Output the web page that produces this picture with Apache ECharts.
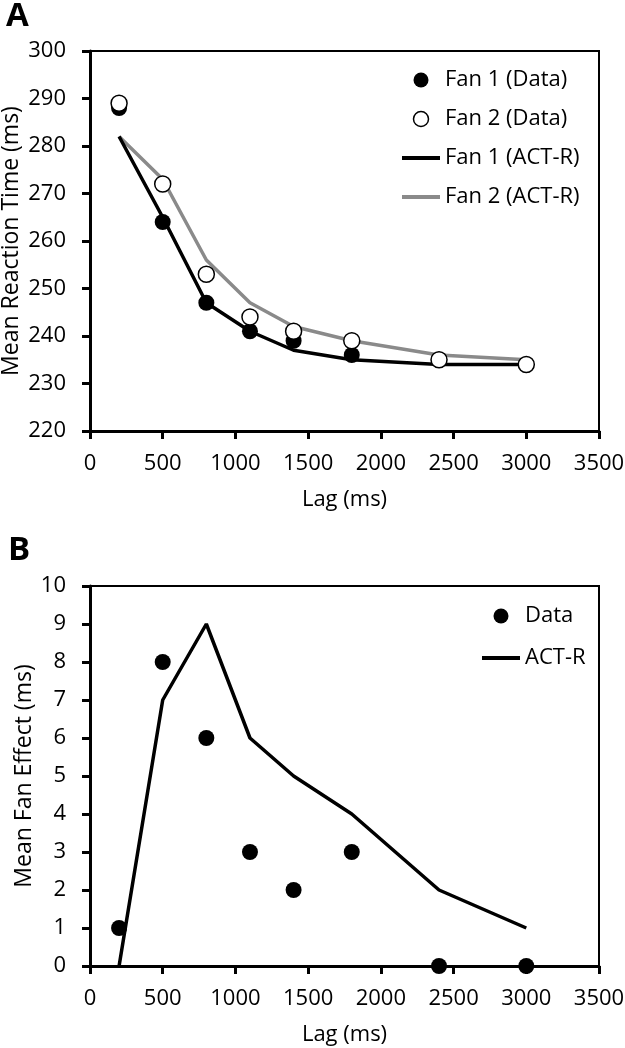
<!DOCTYPE html>
<html>
<head>
<meta charset="utf-8">
<script src="https://cdn.jsdelivr.net/npm/echarts@6/dist/echarts.min.js"></script>
<style>
html,body{margin:0;padding:0;background:#fff;}
#chart{width:625px;height:1048px;}
</style>
</head>
<body>
<div id="chart"></div>
<script>
// ---- data ----
var lags = [200, 500, 800, 1100, 1400, 1800, 2400, 3000];
var fan1Data = [288, 264, 247, 241, 239, 236, 235, 234];
var fan2Data = [289, 272, 253, 244, 241, 239, 235, 234];
var fan1Model = [282, 265, 247, 241, 237, 235, 234, 234];
var fan2Model = [282, 273, 256, 247, 242, 239, 236, 235];
var fanEffectData = [1, 8, 6, 3, 2, 3, 0, 0];
var fanEffectModel = [0, 7, 9, 6, 5, 4, 2, 1];
var panelLabels = ['A', 'B'];
var xTitle = 'Lag (ms)';
var yTitles = ['Mean Reaction Time (ms)', 'Mean Fan Effect (ms)'];

function pairs(xs, ys) { return xs.map(function (x, i) { return [x, ys[i]]; }); }

var FONT = '"Open Sans", "Noto Sans", sans-serif';
var GRAY = '#8a8a8a';
var plain = function (v) { return String(v); };

function xAxis(gi) {
  return {
    type: 'value', gridIndex: gi, min: 0, max: 3500, interval: 500,
    name: xTitle, nameLocation: 'middle', nameGap: 58, nameMoveOverlap: false,
    nameTextStyle: { fontFamily: FONT, fontSize: 22, color: '#000' },
    axisLine: { show: true, onZero: false, lineStyle: { color: '#000', width: 3 } },
    axisTick: { show: true, length: 8, lineStyle: { color: '#000', width: 3 } },
    axisLabel: { margin: 22, fontFamily: FONT, fontSize: 22, color: '#000', formatter: plain },
    splitLine: { show: false }
  };
}
function yAxis(gi, min, max, interval, name, gap) {
  return {
    type: 'value', gridIndex: gi, min: min, max: max, interval: interval,
    name: name, nameLocation: 'middle', nameGap: gap, nameMoveOverlap: false,
    nameTextStyle: { fontFamily: FONT, fontSize: 23, color: '#000' },
    axisLine: { show: true, onZero: false, lineStyle: { color: '#000', width: 3 } },
    axisTick: { show: true, length: 8, lineStyle: { color: '#000', width: 3 } },
    axisLabel: { margin: 24, fontFamily: FONT, fontSize: 22, color: '#000', formatter: plain },
    splitLine: { show: false }
  };
}
var hiddenSym = { color: 'rgba(0,0,0,0)', borderWidth: 0 };

var option = {
  animation: false,
  backgroundColor: '#fff',
  textStyle: { fontFamily: FONT },
  title: [
    { text: panelLabels[0], left: 1, top: -5, textStyle: { fontFamily: FONT, fontSize: 33, fontWeight: 'bold', color: '#000' } },
    { text: panelLabels[1], left: 3, top: 529, textStyle: { fontFamily: FONT, fontSize: 33, fontWeight: 'bold', color: '#000' } }
  ],
  grid: [
    { left: 90, right: 26, top: 51, height: 380, show: true, borderColor: '#000', borderWidth: 2, containLabel: false, outerBoundsMode: 'none' },
    { left: 90, right: 26, top: 586, height: 380, show: true, borderColor: '#000', borderWidth: 2, containLabel: false, outerBoundsMode: 'none' }
  ],
  xAxis: [xAxis(0), xAxis(1)],
  yAxis: [
    yAxis(0, 220, 300, 10, yTitles[0], 67),
    yAxis(1, 0, 10, 1, yTitles[1], 54)
  ],
  legend: [
    {
      orient: 'vertical', left: 400, top: 69, padding: 0, itemGap: 17,
      itemWidth: 38, itemHeight: 15,
      lineStyle: { width: 4 },
      textStyle: { fontFamily: FONT, fontSize: 22, color: '#000', lineHeight: 15 },
      data: [
        { name: 'Fan 1 (Data)', icon: 'circle', itemStyle: { color: '#000', borderWidth: 0 } },
        { name: 'Fan 2 (Data)', icon: 'circle', itemStyle: { color: '#fff', borderColor: '#000', borderWidth: 1.5 } },
        { name: 'Fan 1 (ACT-R)', itemStyle: hiddenSym, lineStyle: { width: 4, color: '#000' } },
        { name: 'Fan 2 (ACT-R)', itemStyle: hiddenSym, lineStyle: { width: 4, color: GRAY } }
      ]
    },
    {
      orient: 'vertical', left: 480, top: 605, padding: 0, itemGap: 20,
      itemWidth: 38, itemHeight: 15,
      lineStyle: { width: 4 },
      textStyle: { fontFamily: FONT, fontSize: 22, color: '#000', lineHeight: 15 },
      data: [
        { name: 'Data', icon: 'circle', itemStyle: { color: '#000', borderWidth: 0 } },
        { name: 'ACT-R', itemStyle: hiddenSym, lineStyle: { width: 4, color: '#000' } }
      ]
    }
  ],
  series: [
    { name: 'Fan 1 (ACT-R)', type: 'line', xAxisIndex: 0, yAxisIndex: 0, data: pairs(lags, fan1Model),
      symbol: 'none', lineStyle: { color: '#000', width: 3.5 }, itemStyle: { color: '#000' }, z: 2 },
    { name: 'Fan 2 (ACT-R)', type: 'line', xAxisIndex: 0, yAxisIndex: 0, data: pairs(lags, fan2Model),
      symbol: 'none', lineStyle: { color: GRAY, width: 3.5 }, itemStyle: { color: GRAY }, z: 1 },
    { name: 'Fan 1 (Data)', type: 'scatter', xAxisIndex: 0, yAxisIndex: 0, data: pairs(lags, fan1Data),
      symbol: 'circle', symbolSize: 16, itemStyle: { color: '#000', opacity: 1 }, z: 3 },
    { name: 'Fan 2 (Data)', type: 'scatter', xAxisIndex: 0, yAxisIndex: 0, data: pairs(lags, fan2Data),
      symbol: 'circle', symbolSize: 16, itemStyle: { color: '#fff', borderColor: '#000', borderWidth: 1.5, opacity: 1 }, z: 4 },
    { name: 'ACT-R', type: 'line', xAxisIndex: 1, yAxisIndex: 1, data: pairs(lags, fanEffectModel),
      symbol: 'none', lineStyle: { color: '#000', width: 3.5 }, itemStyle: { color: '#000' }, z: 2 },
    { name: 'Data', type: 'scatter', xAxisIndex: 1, yAxisIndex: 1, data: pairs(lags, fanEffectData),
      symbol: 'circle', symbolSize: 16, clip: false, itemStyle: { color: '#000', opacity: 1 }, z: 3 }
  ]
};

var chart = echarts.init(document.getElementById('chart'), null, { renderer: 'canvas' });
chart.setOption(option);
</script>
</body>
</html>
